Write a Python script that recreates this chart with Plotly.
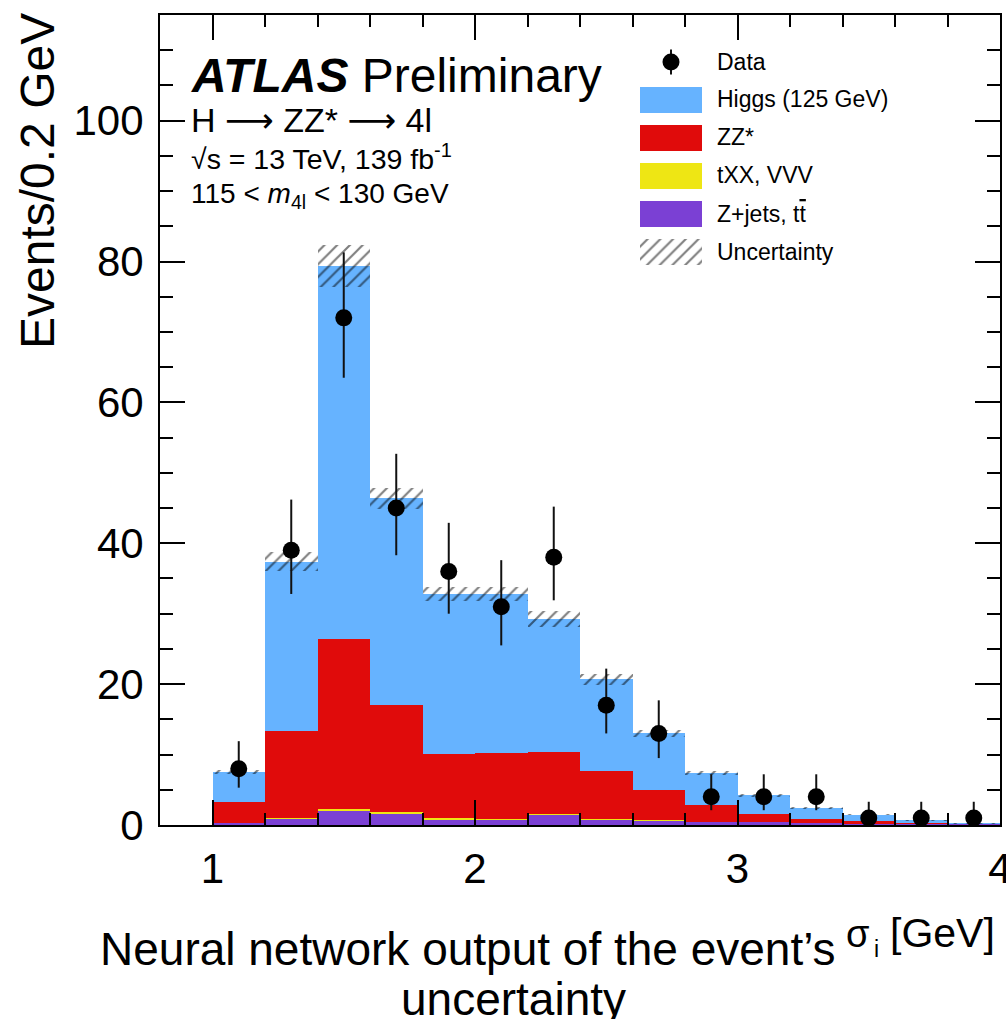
import numpy as np
import plotly.graph_objects as go

# ---------------- data ----------------
bin_lo = [1.0, 1.2, 1.4, 1.6, 1.8, 2.0, 2.2, 2.4, 2.6, 2.8, 3.0, 3.2, 3.4, 3.6, 3.8]
bin_width = 0.2
zjets = [0.20, 0.90, 2.00, 1.63, 0.78, 0.74, 1.35, 0.78, 0.54, 0.40, 0.40, 0.15, 0.08, 0.05, 0.02]
txx   = [0.05, 0.10, 0.30, 0.27, 0.28, 0.18, 0.15, 0.14, 0.14, 0.08, 0.05, 0.04, 0.02, 0.01, 0.01]
zz    = [3.05, 12.3, 24.1, 15.1, 9.04, 9.28, 8.80, 6.74, 4.28, 2.32, 1.15, 0.71, 0.40, 0.24, 0.07]
higgs = [4.26, 24.1, 53.0, 29.4, 22.7, 22.6, 18.9, 13.0, 8.04, 4.60, 2.60, 1.55, 0.95, 0.34, 0.15]
unc   = [0.30, 1.40, 2.95, 1.50, 1.00, 1.00, 1.15, 0.75, 0.50, 0.30, 0.20, 0.12, 0.10, 0.08, 0.06]
data_y    = [8, 39, 72, 45, 36, 31, 38, 17, 13, 4, 4, 4, 1, 1, 1]
data_up   = [3.9, 7.2, 9.3, 7.7, 6.9, 6.6, 7.2, 5.2, 4.7, 3.2, 3.2, 3.2, 2.3, 2.3, 2.3]
data_down = [2.7, 6.2, 8.5, 6.7, 6.0, 5.5, 6.1, 4.0, 3.5, 1.9, 1.9, 1.9, 0.8, 0.8, 0.8]

legend_labels = ["Data", "Higgs (125 GeV)", "ZZ*", "tXX, VVV",
                 "Z+jets, t<span style='text-decoration:overline'>t</span>", "Uncertainty"]

x_ticks = [1, 2, 3, 4]
y_ticks = [0, 20, 40, 60, 80, 100]

# ---------------- styles ----------------
C_HIGGS = "#66b3ff"
C_ZZ = "#e00b0b"
C_TXX = "#eee614"
C_ZJ = "#7b40d4"
FONT = "Liberation Sans, Arial, Helvetica, sans-serif"
HATCH = dict(shape="/", fgcolor="black", bgcolor="rgba(0,0,0,0)", size=9, solidity=0.24, fillmode="overlay")

W, H = 1006, 1019
L, R, T, B = 160, 1000, 15, 825


def X(px):
    return (px - L) / (R - L)


def Y(py):
    return (B - py) / (B - T)


centers = np.array(bin_lo) + bin_width / 2
c1 = np.array(zjets)
c2 = c1 + np.array(txx)
c3 = c2 + np.array(zz)
c4 = c3 + np.array(higgs)
u = np.array(unc)

fig = go.Figure()
for cum, col in [(c4, C_HIGGS), (c3, C_ZZ), (c2, C_TXX), (c1, C_ZJ)]:
    fig.add_trace(go.Bar(x=centers, y=cum, base=0, width=bin_width,
                         marker=dict(color=col, line=dict(width=0)),
                         showlegend=False, hoverinfo="skip"))

fig.add_trace(go.Bar(x=centers, y=2 * u, base=c4 - u, width=bin_width,
                     marker=dict(color="rgba(0,0,0,0)", line=dict(width=0), pattern=HATCH),
                     showlegend=False, hoverinfo="skip"))

fig.add_trace(go.Scatter(x=centers, y=data_y, mode="markers",
                         marker=dict(color="black", size=17),
                         error_y=dict(type="data", symmetric=False, array=data_up, arrayminus=data_down,
                                      color="#111", thickness=2, width=0),
                         showlegend=False, hoverinfo="skip"))

# ---------------- legend patches on an auxiliary axis ----------------
nrow = len(legend_labels)
half = 0.355
fig.add_trace(go.Scatter(x=[0.5], y=[0.5], mode="markers", xaxis="x2", yaxis="y2",
                         marker=dict(color="black", size=17),
                         error_y=dict(type="data", array=[0.33], color="#111", thickness=2, width=0),
                         showlegend=False, hoverinfo="skip"))
for i, col in [(1, C_HIGGS), (2, C_ZZ), (3, C_TXX), (4, C_ZJ)]:
    fig.add_trace(go.Bar(x=[0.5], y=[2 * half], base=[i + 0.5 - half], width=1, xaxis="x2", yaxis="y2",
                         marker=dict(color=col, line=dict(width=0)), showlegend=False, hoverinfo="skip"))
fig.add_trace(go.Bar(x=[0.5], y=[2 * half], base=[5 + 0.5 - half], width=1, xaxis="x2", yaxis="y2",
                     marker=dict(color="rgba(0,0,0,0)", line=dict(width=0), pattern=HATCH),
                     showlegend=False, hoverinfo="skip"))

row_y = [62, 99, 137, 175, 214, 252]
annotations = []
for lab, ry in zip(legend_labels, row_y):
    annotations.append(dict(x=X(715), y=Y(ry), xref="paper", yref="paper", text=lab, showarrow=False,
                            xanchor="left", yanchor="middle", font=dict(size=23, color="black", family=FONT)))

# ---------------- labels ----------------
ARR = "<span style='font-family:DejaVu Sans'>\u27f6</span>"
annotations += [
    dict(x=X(189), y=Y(75), text="<b><i>ATLAS</i></b> Preliminary", font=dict(size=48)),
    dict(x=X(189), y=Y(120), text="H " + ARR + " ZZ* " + ARR + " 4l", font=dict(size=34)),
    dict(x=X(189), y=Y(157), text="\u221As = 13 TeV, 139 fb<sup>-1</sup>", font=dict(size=28.5)),
    dict(x=X(189), y=Y(196), text="115 < <i>m</i><sub>4l</sub> < 130 GeV", font=dict(size=28)),
]
for a in annotations[-4:]:
    a.update(xref="paper", yref="paper", showarrow=False, xanchor="left", yanchor="middle")
    a["font"].update(color="black", family=FONT)

annotations += [
    dict(x=X(838), y=Y(949), text="Neural network output of the event\u2019s", xanchor="right",
         font=dict(size=46)),
    dict(x=X(513), y=Y(999), text="uncertainty", xanchor="center", font=dict(size=46)),
    dict(x=X(857), y=Y(934), text="\u03c3", xanchor="center", font=dict(size=38)),
    dict(x=X(876), y=Y(949), text="i", xanchor="center", font=dict(size=23)),
    dict(x=X(888), y=Y(933), text="[GeV]", xanchor="left", font=dict(size=41)),
    dict(x=X(37), y=Y(181), text="Events/0.2 GeV", xanchor="center", textangle=-90, font=dict(size=48)),
]
for a in annotations[-6:]:
    a.update(xref="paper", yref="paper", showarrow=False, yanchor="middle")
    a["font"].update(color="black", family=FONT)

fig.update_layout(
    width=W, height=H,
    margin=dict(l=L, r=W - R, t=T, b=H - B, autoexpand=False),
    paper_bgcolor="white", plot_bgcolor="white",
    barmode="overlay", bargap=0,
    showlegend=False,
    font=dict(family=FONT, color="black"),
    annotations=annotations,
    xaxis=dict(range=[0.8, 4.0], tickvals=x_ticks, ticktext=[str(v) for v in x_ticks],
               ticks="inside", ticklen=25, tickwidth=2, tickcolor="black",
               minor=dict(dtick=0.2, tick0=0, ticks="inside", ticklen=12, tickwidth=2, tickcolor="black"),
               showline=True, linewidth=2, linecolor="black", mirror="ticks",
               showgrid=False, zeroline=False, tickfont=dict(size=42, family=FONT, color="black"),
               ticklabelstandoff=6, ticklabeloverflow="allow", automargin=False),
    yaxis=dict(range=[0, 115], tickvals=y_ticks, ticktext=[str(v) for v in y_ticks],
               ticks="inside", ticklen=25, tickwidth=2, tickcolor="black",
               minor=dict(dtick=5, tick0=0, ticks="inside", ticklen=13, tickwidth=2, tickcolor="black"),
               showline=True, linewidth=2, linecolor="black", mirror="ticks",
               showgrid=False, zeroline=False, tickfont=dict(size=42, family=FONT, color="black"),
               ticklabelstandoff=6, automargin=False),
    xaxis2=dict(domain=[X(640), X(702)], range=[0, 1], anchor="y2", visible=False, fixedrange=True),
    yaxis2=dict(domain=[Y(62 + 38 * 5 + 19), Y(62 - 19)], range=[nrow, 0], anchor="x2", visible=False,
                fixedrange=True),
)

fig.write_html("out.html")
